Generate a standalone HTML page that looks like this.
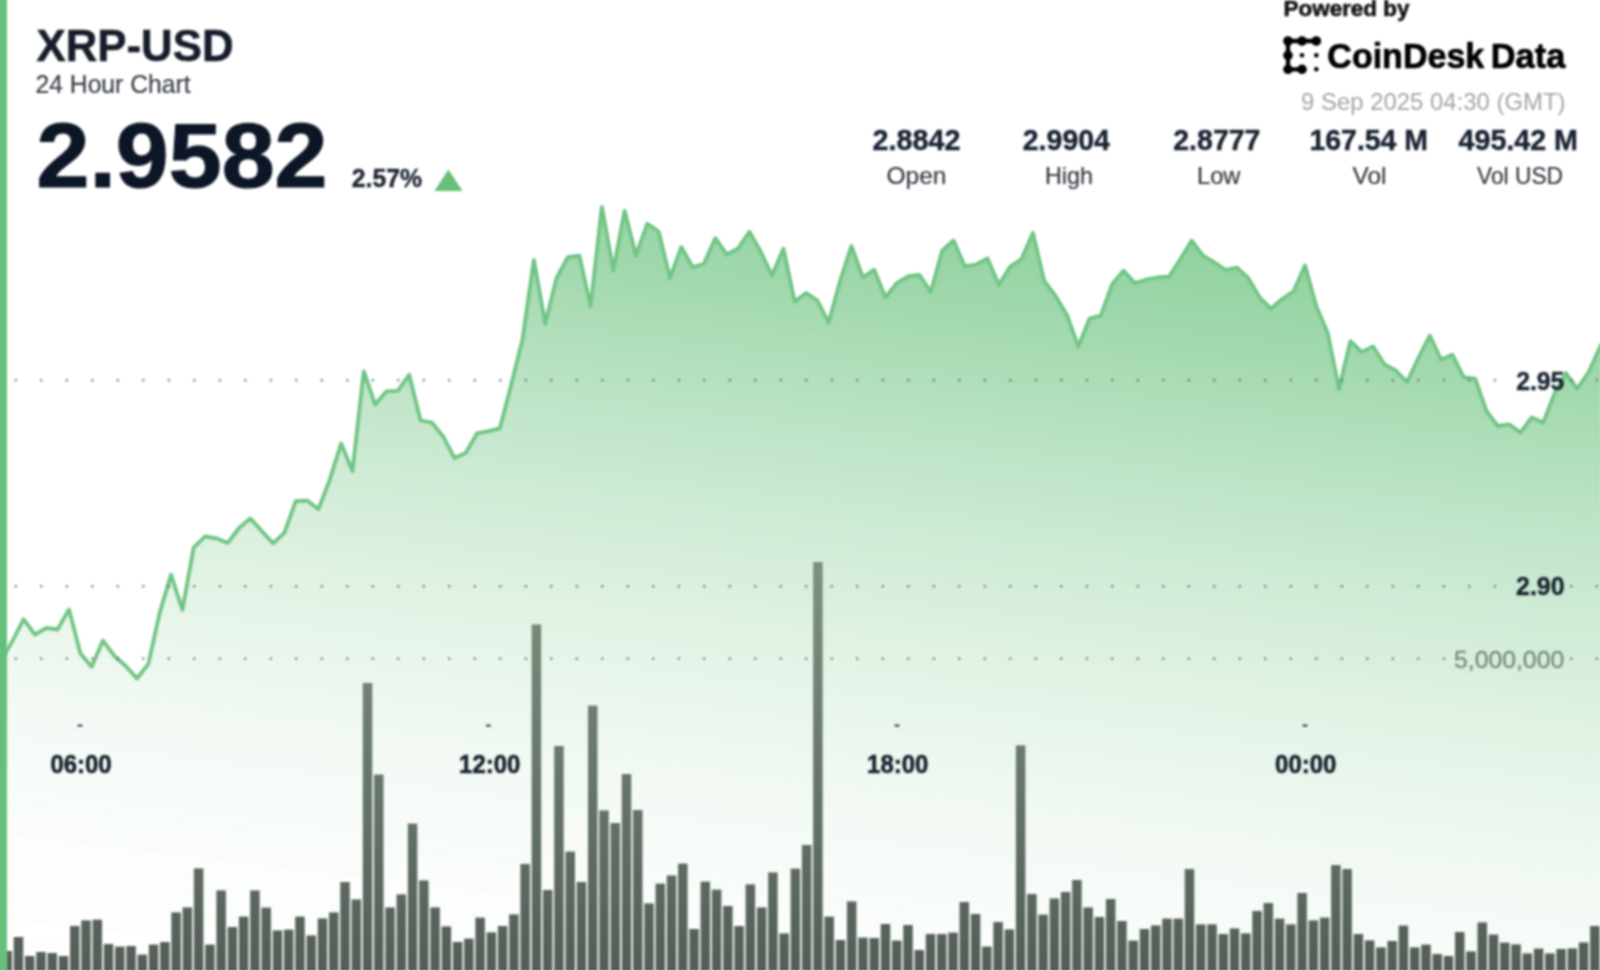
<!DOCTYPE html>
<html><head><meta charset="utf-8"><title>XRP-USD 24 Hour Chart</title>
<style>
html,body{margin:0;padding:0;background:#fff;}
body{width:1600px;height:970px;overflow:hidden;font-family:"Liberation Sans",sans-serif;}
svg{display:block;font-family:"Liberation Sans",sans-serif;}
</style></head>
<body>
<svg width="1600" height="970" viewBox="0 0 1600 970">
<defs>
<linearGradient id="ag" gradientUnits="userSpaceOnUse" x1="1.0" y1="-7.9" x2="-118.3" y2="981.7">
<stop offset="0.00" stop-color="#66c07a" stop-opacity="0.8389"/><stop offset="0.04" stop-color="#66c07a" stop-opacity="0.7972"/><stop offset="0.08" stop-color="#66c07a" stop-opacity="0.7536"/><stop offset="0.12" stop-color="#66c07a" stop-opacity="0.7081"/><stop offset="0.16" stop-color="#66c07a" stop-opacity="0.6608"/><stop offset="0.20" stop-color="#66c07a" stop-opacity="0.6115"/><stop offset="0.24" stop-color="#66c07a" stop-opacity="0.5604"/><stop offset="0.28" stop-color="#66c07a" stop-opacity="0.5074"/><stop offset="0.32" stop-color="#66c07a" stop-opacity="0.4532"/><stop offset="0.36" stop-color="#66c07a" stop-opacity="0.4014"/><stop offset="0.40" stop-color="#66c07a" stop-opacity="0.3528"/><stop offset="0.44" stop-color="#66c07a" stop-opacity="0.3073"/><stop offset="0.48" stop-color="#66c07a" stop-opacity="0.2650"/><stop offset="0.52" stop-color="#66c07a" stop-opacity="0.2258"/><stop offset="0.56" stop-color="#66c07a" stop-opacity="0.1897"/><stop offset="0.60" stop-color="#66c07a" stop-opacity="0.1568"/><stop offset="0.64" stop-color="#66c07a" stop-opacity="0.1270"/><stop offset="0.68" stop-color="#66c07a" stop-opacity="0.1004"/><stop offset="0.72" stop-color="#66c07a" stop-opacity="0.0768"/><stop offset="0.76" stop-color="#66c07a" stop-opacity="0.0564"/><stop offset="0.80" stop-color="#66c07a" stop-opacity="0.0392"/><stop offset="0.84" stop-color="#66c07a" stop-opacity="0.0251"/><stop offset="0.88" stop-color="#66c07a" stop-opacity="0.0141"/><stop offset="0.92" stop-color="#66c07a" stop-opacity="0.0063"/><stop offset="0.96" stop-color="#66c07a" stop-opacity="0.0016"/><stop offset="1.00" stop-color="#66c07a" stop-opacity="0.0000"/>
</linearGradient>
<linearGradient id="bg" gradientUnits="userSpaceOnUse" x1="0" y1="560" x2="0" y2="970">
<stop offset="0" stop-color="#7d9181"/>
<stop offset="1" stop-color="#535e57"/>
</linearGradient>
<filter id="soft" x="-2%" y="-2%" width="104%" height="104%"><feGaussianBlur stdDeviation="1.1"/></filter>
<filter id="soft2" x="-2%" y="-2%" width="104%" height="104%"><feGaussianBlur stdDeviation="0.8"/></filter>
</defs>
<rect width="1600" height="970" fill="#fff"/>
<g filter="url(#soft)">
<path d="M0.9,660.0 L12.3,641.5 L23.6,619.3 L34.9,634.6 L46.3,628.0 L57.6,629.5 L69.0,609.4 L80.3,653.2 L91.6,666.8 L103.0,640.6 L114.3,655.9 L125.7,666.0 L137.0,678.5 L148.3,664.1 L159.7,612.9 L171.0,574.7 L182.4,609.9 L193.7,547.7 L205.0,536.5 L216.4,538.3 L227.7,543.1 L239.1,528.0 L250.4,518.4 L261.7,531.1 L273.1,543.3 L284.4,532.8 L295.8,501.2 L307.1,500.6 L318.4,509.2 L329.8,479.6 L341.1,443.5 L352.5,471.0 L363.8,371.3 L375.1,404.7 L386.5,391.3 L397.8,390.9 L409.2,374.8 L420.5,420.5 L431.8,422.5 L443.2,436.6 L454.5,458.1 L465.9,452.8 L477.2,433.3 L488.5,431.1 L499.9,428.3 L511.2,385.1 L522.6,339.2 L533.9,259.9 L545.2,323.8 L556.6,278.0 L567.9,257.1 L579.3,255.7 L590.6,306.1 L601.9,207.0 L613.3,270.7 L624.6,210.8 L636.0,255.7 L647.3,223.7 L658.6,231.5 L670.0,278.2 L681.3,247.2 L692.7,267.2 L704.0,263.7 L715.3,238.2 L726.7,254.5 L738.0,248.7 L749.4,231.8 L760.7,251.7 L772.0,275.8 L783.4,248.7 L794.7,301.8 L806.1,293.0 L817.4,300.5 L828.7,322.8 L840.1,281.0 L851.4,246.0 L862.8,277.5 L874.1,269.7 L885.4,297.5 L896.8,283.2 L908.1,276.5 L919.5,275.0 L930.8,292.2 L942.1,251.0 L953.5,240.5 L964.8,266.4 L976.2,264.5 L987.5,258.5 L998.8,285.1 L1010.2,266.7 L1021.5,259.2 L1032.9,233.0 L1044.2,281.0 L1055.5,296.0 L1066.9,315.0 L1078.2,346.7 L1089.6,318.7 L1100.9,315.7 L1112.2,284.2 L1123.6,270.7 L1134.9,283.1 L1146.3,279.7 L1157.6,277.5 L1168.9,276.7 L1180.3,259.5 L1191.6,240.7 L1203.0,255.7 L1214.3,262.5 L1225.6,270.0 L1237.0,267.7 L1248.3,278.2 L1259.7,297.7 L1271.0,308.8 L1282.3,299.0 L1293.7,291.3 L1305.0,265.5 L1316.4,306.7 L1327.7,333.0 L1339.0,389.2 L1350.4,341.2 L1361.7,352.1 L1373.1,346.5 L1384.4,364.5 L1395.7,370.5 L1407.1,382.2 L1418.4,358.0 L1429.8,335.7 L1441.1,359.7 L1452.4,354.8 L1463.8,377.5 L1475.1,378.7 L1486.5,411.2 L1497.8,426.0 L1509.1,424.4 L1520.5,432.6 L1531.8,417.5 L1543.2,422.7 L1554.5,393.7 L1565.8,373.1 L1577.2,388.8 L1588.5,372.5 L1601.0,345.0 L1601,971 L0,971 Z" fill="url(#ag)"/>
</g>
<g filter="url(#soft)">
<path d="M0.9,660.0 L12.3,641.5 L23.6,619.3 L34.9,634.6 L46.3,628.0 L57.6,629.5 L69.0,609.4 L80.3,653.2 L91.6,666.8 L103.0,640.6 L114.3,655.9 L125.7,666.0 L137.0,678.5 L148.3,664.1 L159.7,612.9 L171.0,574.7 L182.4,609.9 L193.7,547.7 L205.0,536.5 L216.4,538.3 L227.7,543.1 L239.1,528.0 L250.4,518.4 L261.7,531.1 L273.1,543.3 L284.4,532.8 L295.8,501.2 L307.1,500.6 L318.4,509.2 L329.8,479.6 L341.1,443.5 L352.5,471.0 L363.8,371.3 L375.1,404.7 L386.5,391.3 L397.8,390.9 L409.2,374.8 L420.5,420.5 L431.8,422.5 L443.2,436.6 L454.5,458.1 L465.9,452.8 L477.2,433.3 L488.5,431.1 L499.9,428.3 L511.2,385.1 L522.6,339.2 L533.9,259.9 L545.2,323.8 L556.6,278.0 L567.9,257.1 L579.3,255.7 L590.6,306.1 L601.9,207.0 L613.3,270.7 L624.6,210.8 L636.0,255.7 L647.3,223.7 L658.6,231.5 L670.0,278.2 L681.3,247.2 L692.7,267.2 L704.0,263.7 L715.3,238.2 L726.7,254.5 L738.0,248.7 L749.4,231.8 L760.7,251.7 L772.0,275.8 L783.4,248.7 L794.7,301.8 L806.1,293.0 L817.4,300.5 L828.7,322.8 L840.1,281.0 L851.4,246.0 L862.8,277.5 L874.1,269.7 L885.4,297.5 L896.8,283.2 L908.1,276.5 L919.5,275.0 L930.8,292.2 L942.1,251.0 L953.5,240.5 L964.8,266.4 L976.2,264.5 L987.5,258.5 L998.8,285.1 L1010.2,266.7 L1021.5,259.2 L1032.9,233.0 L1044.2,281.0 L1055.5,296.0 L1066.9,315.0 L1078.2,346.7 L1089.6,318.7 L1100.9,315.7 L1112.2,284.2 L1123.6,270.7 L1134.9,283.1 L1146.3,279.7 L1157.6,277.5 L1168.9,276.7 L1180.3,259.5 L1191.6,240.7 L1203.0,255.7 L1214.3,262.5 L1225.6,270.0 L1237.0,267.7 L1248.3,278.2 L1259.7,297.7 L1271.0,308.8 L1282.3,299.0 L1293.7,291.3 L1305.0,265.5 L1316.4,306.7 L1327.7,333.0 L1339.0,389.2 L1350.4,341.2 L1361.7,352.1 L1373.1,346.5 L1384.4,364.5 L1395.7,370.5 L1407.1,382.2 L1418.4,358.0 L1429.8,335.7 L1441.1,359.7 L1452.4,354.8 L1463.8,377.5 L1475.1,378.7 L1486.5,411.2 L1497.8,426.0 L1509.1,424.4 L1520.5,432.6 L1531.8,417.5 L1543.2,422.7 L1554.5,393.7 L1565.8,373.1 L1577.2,388.8 L1588.5,372.5 L1601.0,345.0" fill="none" stroke="#6fc483" stroke-width="3.8" stroke-linejoin="round" stroke-linecap="round"/>
</g>
<g fill="#626262" filter="url(#soft2)"><rect x="14.80" y="379.30" width="2.0" height="2.0"/><rect x="40.30" y="379.30" width="2.0" height="2.0"/><rect x="65.80" y="379.30" width="2.0" height="2.0"/><rect x="91.30" y="379.30" width="2.0" height="2.0"/><rect x="116.80" y="379.30" width="2.0" height="2.0"/><rect x="142.30" y="379.30" width="2.0" height="2.0"/><rect x="167.80" y="379.30" width="2.0" height="2.0"/><rect x="193.30" y="379.30" width="2.0" height="2.0"/><rect x="218.80" y="379.30" width="2.0" height="2.0"/><rect x="244.30" y="379.30" width="2.0" height="2.0"/><rect x="269.80" y="379.30" width="2.0" height="2.0"/><rect x="295.30" y="379.30" width="2.0" height="2.0"/><rect x="320.80" y="379.30" width="2.0" height="2.0"/><rect x="346.30" y="379.30" width="2.0" height="2.0"/><rect x="371.80" y="379.30" width="2.0" height="2.0"/><rect x="397.30" y="379.30" width="2.0" height="2.0"/><rect x="422.80" y="379.30" width="2.0" height="2.0"/><rect x="448.30" y="379.30" width="2.0" height="2.0"/><rect x="473.80" y="379.30" width="2.0" height="2.0"/><rect x="499.30" y="379.30" width="2.0" height="2.0"/><rect x="524.80" y="379.30" width="2.0" height="2.0"/><rect x="550.30" y="379.30" width="2.0" height="2.0"/><rect x="575.80" y="379.30" width="2.0" height="2.0"/><rect x="601.30" y="379.30" width="2.0" height="2.0"/><rect x="626.80" y="379.30" width="2.0" height="2.0"/><rect x="652.30" y="379.30" width="2.0" height="2.0"/><rect x="677.80" y="379.30" width="2.0" height="2.0"/><rect x="703.30" y="379.30" width="2.0" height="2.0"/><rect x="728.80" y="379.30" width="2.0" height="2.0"/><rect x="754.30" y="379.30" width="2.0" height="2.0"/><rect x="779.80" y="379.30" width="2.0" height="2.0"/><rect x="805.30" y="379.30" width="2.0" height="2.0"/><rect x="830.80" y="379.30" width="2.0" height="2.0"/><rect x="856.30" y="379.30" width="2.0" height="2.0"/><rect x="881.80" y="379.30" width="2.0" height="2.0"/><rect x="907.30" y="379.30" width="2.0" height="2.0"/><rect x="932.80" y="379.30" width="2.0" height="2.0"/><rect x="958.30" y="379.30" width="2.0" height="2.0"/><rect x="983.80" y="379.30" width="2.0" height="2.0"/><rect x="1009.30" y="379.30" width="2.0" height="2.0"/><rect x="1034.80" y="379.30" width="2.0" height="2.0"/><rect x="1060.30" y="379.30" width="2.0" height="2.0"/><rect x="1085.80" y="379.30" width="2.0" height="2.0"/><rect x="1111.30" y="379.30" width="2.0" height="2.0"/><rect x="1136.80" y="379.30" width="2.0" height="2.0"/><rect x="1162.30" y="379.30" width="2.0" height="2.0"/><rect x="1187.80" y="379.30" width="2.0" height="2.0"/><rect x="1213.30" y="379.30" width="2.0" height="2.0"/><rect x="1238.80" y="379.30" width="2.0" height="2.0"/><rect x="1264.30" y="379.30" width="2.0" height="2.0"/><rect x="1289.80" y="379.30" width="2.0" height="2.0"/><rect x="1315.30" y="379.30" width="2.0" height="2.0"/><rect x="1340.80" y="379.30" width="2.0" height="2.0"/><rect x="1366.30" y="379.30" width="2.0" height="2.0"/><rect x="1391.80" y="379.30" width="2.0" height="2.0"/><rect x="1417.30" y="379.30" width="2.0" height="2.0"/><rect x="1442.80" y="379.30" width="2.0" height="2.0"/><rect x="1468.30" y="379.30" width="2.0" height="2.0"/><rect x="1493.80" y="379.30" width="2.0" height="2.0"/><rect x="1570.30" y="379.30" width="2.0" height="2.0"/><rect x="1595.80" y="379.30" width="2.0" height="2.0"/><rect x="14.80" y="585.30" width="2.0" height="2.0"/><rect x="40.30" y="585.30" width="2.0" height="2.0"/><rect x="65.80" y="585.30" width="2.0" height="2.0"/><rect x="91.30" y="585.30" width="2.0" height="2.0"/><rect x="116.80" y="585.30" width="2.0" height="2.0"/><rect x="142.30" y="585.30" width="2.0" height="2.0"/><rect x="167.80" y="585.30" width="2.0" height="2.0"/><rect x="193.30" y="585.30" width="2.0" height="2.0"/><rect x="218.80" y="585.30" width="2.0" height="2.0"/><rect x="244.30" y="585.30" width="2.0" height="2.0"/><rect x="269.80" y="585.30" width="2.0" height="2.0"/><rect x="295.30" y="585.30" width="2.0" height="2.0"/><rect x="320.80" y="585.30" width="2.0" height="2.0"/><rect x="346.30" y="585.30" width="2.0" height="2.0"/><rect x="371.80" y="585.30" width="2.0" height="2.0"/><rect x="397.30" y="585.30" width="2.0" height="2.0"/><rect x="422.80" y="585.30" width="2.0" height="2.0"/><rect x="448.30" y="585.30" width="2.0" height="2.0"/><rect x="473.80" y="585.30" width="2.0" height="2.0"/><rect x="499.30" y="585.30" width="2.0" height="2.0"/><rect x="524.80" y="585.30" width="2.0" height="2.0"/><rect x="550.30" y="585.30" width="2.0" height="2.0"/><rect x="575.80" y="585.30" width="2.0" height="2.0"/><rect x="601.30" y="585.30" width="2.0" height="2.0"/><rect x="626.80" y="585.30" width="2.0" height="2.0"/><rect x="652.30" y="585.30" width="2.0" height="2.0"/><rect x="677.80" y="585.30" width="2.0" height="2.0"/><rect x="703.30" y="585.30" width="2.0" height="2.0"/><rect x="728.80" y="585.30" width="2.0" height="2.0"/><rect x="754.30" y="585.30" width="2.0" height="2.0"/><rect x="779.80" y="585.30" width="2.0" height="2.0"/><rect x="805.30" y="585.30" width="2.0" height="2.0"/><rect x="830.80" y="585.30" width="2.0" height="2.0"/><rect x="856.30" y="585.30" width="2.0" height="2.0"/><rect x="881.80" y="585.30" width="2.0" height="2.0"/><rect x="907.30" y="585.30" width="2.0" height="2.0"/><rect x="932.80" y="585.30" width="2.0" height="2.0"/><rect x="958.30" y="585.30" width="2.0" height="2.0"/><rect x="983.80" y="585.30" width="2.0" height="2.0"/><rect x="1009.30" y="585.30" width="2.0" height="2.0"/><rect x="1034.80" y="585.30" width="2.0" height="2.0"/><rect x="1060.30" y="585.30" width="2.0" height="2.0"/><rect x="1085.80" y="585.30" width="2.0" height="2.0"/><rect x="1111.30" y="585.30" width="2.0" height="2.0"/><rect x="1136.80" y="585.30" width="2.0" height="2.0"/><rect x="1162.30" y="585.30" width="2.0" height="2.0"/><rect x="1187.80" y="585.30" width="2.0" height="2.0"/><rect x="1213.30" y="585.30" width="2.0" height="2.0"/><rect x="1238.80" y="585.30" width="2.0" height="2.0"/><rect x="1264.30" y="585.30" width="2.0" height="2.0"/><rect x="1289.80" y="585.30" width="2.0" height="2.0"/><rect x="1315.30" y="585.30" width="2.0" height="2.0"/><rect x="1340.80" y="585.30" width="2.0" height="2.0"/><rect x="1366.30" y="585.30" width="2.0" height="2.0"/><rect x="1391.80" y="585.30" width="2.0" height="2.0"/><rect x="1417.30" y="585.30" width="2.0" height="2.0"/><rect x="1442.80" y="585.30" width="2.0" height="2.0"/><rect x="1468.30" y="585.30" width="2.0" height="2.0"/><rect x="1493.80" y="585.30" width="2.0" height="2.0"/><rect x="1570.30" y="585.30" width="2.0" height="2.0"/><rect x="1595.80" y="585.30" width="2.0" height="2.0"/><rect x="14.80" y="657.60" width="2.0" height="2.0"/><rect x="40.30" y="657.60" width="2.0" height="2.0"/><rect x="65.80" y="657.60" width="2.0" height="2.0"/><rect x="91.30" y="657.60" width="2.0" height="2.0"/><rect x="116.80" y="657.60" width="2.0" height="2.0"/><rect x="142.30" y="657.60" width="2.0" height="2.0"/><rect x="167.80" y="657.60" width="2.0" height="2.0"/><rect x="193.30" y="657.60" width="2.0" height="2.0"/><rect x="218.80" y="657.60" width="2.0" height="2.0"/><rect x="244.30" y="657.60" width="2.0" height="2.0"/><rect x="269.80" y="657.60" width="2.0" height="2.0"/><rect x="295.30" y="657.60" width="2.0" height="2.0"/><rect x="320.80" y="657.60" width="2.0" height="2.0"/><rect x="346.30" y="657.60" width="2.0" height="2.0"/><rect x="371.80" y="657.60" width="2.0" height="2.0"/><rect x="397.30" y="657.60" width="2.0" height="2.0"/><rect x="422.80" y="657.60" width="2.0" height="2.0"/><rect x="448.30" y="657.60" width="2.0" height="2.0"/><rect x="473.80" y="657.60" width="2.0" height="2.0"/><rect x="499.30" y="657.60" width="2.0" height="2.0"/><rect x="524.80" y="657.60" width="2.0" height="2.0"/><rect x="550.30" y="657.60" width="2.0" height="2.0"/><rect x="575.80" y="657.60" width="2.0" height="2.0"/><rect x="601.30" y="657.60" width="2.0" height="2.0"/><rect x="626.80" y="657.60" width="2.0" height="2.0"/><rect x="652.30" y="657.60" width="2.0" height="2.0"/><rect x="677.80" y="657.60" width="2.0" height="2.0"/><rect x="703.30" y="657.60" width="2.0" height="2.0"/><rect x="728.80" y="657.60" width="2.0" height="2.0"/><rect x="754.30" y="657.60" width="2.0" height="2.0"/><rect x="779.80" y="657.60" width="2.0" height="2.0"/><rect x="805.30" y="657.60" width="2.0" height="2.0"/><rect x="830.80" y="657.60" width="2.0" height="2.0"/><rect x="856.30" y="657.60" width="2.0" height="2.0"/><rect x="881.80" y="657.60" width="2.0" height="2.0"/><rect x="907.30" y="657.60" width="2.0" height="2.0"/><rect x="932.80" y="657.60" width="2.0" height="2.0"/><rect x="958.30" y="657.60" width="2.0" height="2.0"/><rect x="983.80" y="657.60" width="2.0" height="2.0"/><rect x="1009.30" y="657.60" width="2.0" height="2.0"/><rect x="1034.80" y="657.60" width="2.0" height="2.0"/><rect x="1060.30" y="657.60" width="2.0" height="2.0"/><rect x="1085.80" y="657.60" width="2.0" height="2.0"/><rect x="1111.30" y="657.60" width="2.0" height="2.0"/><rect x="1136.80" y="657.60" width="2.0" height="2.0"/><rect x="1162.30" y="657.60" width="2.0" height="2.0"/><rect x="1187.80" y="657.60" width="2.0" height="2.0"/><rect x="1213.30" y="657.60" width="2.0" height="2.0"/><rect x="1238.80" y="657.60" width="2.0" height="2.0"/><rect x="1264.30" y="657.60" width="2.0" height="2.0"/><rect x="1289.80" y="657.60" width="2.0" height="2.0"/><rect x="1315.30" y="657.60" width="2.0" height="2.0"/><rect x="1340.80" y="657.60" width="2.0" height="2.0"/><rect x="1366.30" y="657.60" width="2.0" height="2.0"/><rect x="1391.80" y="657.60" width="2.0" height="2.0"/><rect x="1417.30" y="657.60" width="2.0" height="2.0"/><rect x="1442.80" y="657.60" width="2.0" height="2.0"/><rect x="1570.30" y="657.60" width="2.0" height="2.0"/><rect x="1595.80" y="657.60" width="2.0" height="2.0"/></g>
<g filter="url(#soft)">
<g fill="url(#bg)" opacity="1.0">
<rect x="2.45" y="951.0" width="9.5" height="20.0"/>
<rect x="13.71" y="937.0" width="9.5" height="34.0"/>
<rect x="24.97" y="956.0" width="9.5" height="15.0"/>
<rect x="36.23" y="952.0" width="9.5" height="19.0"/>
<rect x="47.49" y="953.0" width="9.5" height="18.0"/>
<rect x="58.75" y="956.0" width="9.5" height="15.0"/>
<rect x="70.01" y="926.0" width="9.5" height="45.0"/>
<rect x="81.27" y="920.4" width="9.5" height="50.6"/>
<rect x="92.53" y="919.6" width="9.5" height="51.4"/>
<rect x="103.79" y="944.0" width="9.5" height="27.0"/>
<rect x="115.05" y="946.6" width="9.5" height="24.4"/>
<rect x="126.31" y="946.0" width="9.5" height="25.0"/>
<rect x="137.57" y="954.6" width="9.5" height="16.4"/>
<rect x="148.83" y="944.6" width="9.5" height="26.4"/>
<rect x="160.09" y="942.0" width="9.5" height="29.0"/>
<rect x="171.35" y="912.4" width="9.5" height="58.6"/>
<rect x="182.61" y="907.4" width="9.5" height="63.6"/>
<rect x="193.87" y="868.4" width="9.5" height="102.6"/>
<rect x="205.13" y="944.6" width="9.5" height="26.4"/>
<rect x="216.39" y="890.4" width="9.5" height="80.6"/>
<rect x="227.65" y="927.0" width="9.5" height="44.0"/>
<rect x="238.91" y="916.6" width="9.5" height="54.4"/>
<rect x="250.17" y="890.4" width="9.5" height="80.6"/>
<rect x="261.43" y="907.6" width="9.5" height="63.4"/>
<rect x="272.69" y="930.4" width="9.5" height="40.6"/>
<rect x="283.95" y="929.6" width="9.5" height="41.4"/>
<rect x="295.21" y="916.6" width="9.5" height="54.4"/>
<rect x="306.47" y="935.4" width="9.5" height="35.6"/>
<rect x="317.73" y="918.4" width="9.5" height="52.6"/>
<rect x="328.99" y="912.4" width="9.5" height="58.6"/>
<rect x="340.25" y="882.0" width="9.5" height="89.0"/>
<rect x="351.51" y="899.4" width="9.5" height="71.6"/>
<rect x="362.77" y="683.0" width="9.5" height="288.0"/>
<rect x="374.03" y="774.6" width="9.5" height="196.4"/>
<rect x="385.29" y="907.4" width="9.5" height="63.6"/>
<rect x="396.55" y="894.4" width="9.5" height="76.6"/>
<rect x="407.81" y="823.6" width="9.5" height="147.4"/>
<rect x="419.07" y="880.4" width="9.5" height="90.6"/>
<rect x="430.33" y="907.4" width="9.5" height="63.6"/>
<rect x="441.59" y="926.4" width="9.5" height="44.6"/>
<rect x="452.85" y="942.0" width="9.5" height="29.0"/>
<rect x="464.11" y="938.6" width="9.5" height="32.4"/>
<rect x="475.37" y="917.6" width="9.5" height="53.4"/>
<rect x="486.63" y="932.4" width="9.5" height="38.6"/>
<rect x="497.89" y="926.0" width="9.5" height="45.0"/>
<rect x="509.15" y="914.4" width="9.5" height="56.6"/>
<rect x="520.41" y="864.0" width="9.5" height="107.0"/>
<rect x="531.67" y="624.4" width="9.5" height="346.6"/>
<rect x="542.93" y="890.0" width="9.5" height="81.0"/>
<rect x="554.19" y="746.0" width="9.5" height="225.0"/>
<rect x="565.45" y="851.6" width="9.5" height="119.4"/>
<rect x="576.71" y="882.0" width="9.5" height="89.0"/>
<rect x="587.97" y="705.6" width="9.5" height="265.4"/>
<rect x="599.23" y="810.4" width="9.5" height="160.6"/>
<rect x="610.49" y="823.0" width="9.5" height="148.0"/>
<rect x="621.75" y="774.0" width="9.5" height="197.0"/>
<rect x="633.01" y="810.0" width="9.5" height="161.0"/>
<rect x="644.27" y="903.4" width="9.5" height="67.6"/>
<rect x="655.53" y="883.6" width="9.5" height="87.4"/>
<rect x="666.79" y="875.4" width="9.5" height="95.6"/>
<rect x="678.05" y="863.6" width="9.5" height="107.4"/>
<rect x="689.31" y="929.0" width="9.5" height="42.0"/>
<rect x="700.57" y="881.6" width="9.5" height="89.4"/>
<rect x="711.83" y="889.6" width="9.5" height="81.4"/>
<rect x="723.09" y="906.0" width="9.5" height="65.0"/>
<rect x="734.35" y="926.0" width="9.5" height="45.0"/>
<rect x="745.61" y="884.4" width="9.5" height="86.6"/>
<rect x="756.87" y="907.4" width="9.5" height="63.6"/>
<rect x="768.13" y="872.4" width="9.5" height="98.6"/>
<rect x="779.39" y="933.4" width="9.5" height="37.6"/>
<rect x="790.65" y="868.6" width="9.5" height="102.4"/>
<rect x="801.91" y="845.0" width="9.5" height="126.0"/>
<rect x="813.17" y="562.0" width="9.5" height="409.0"/>
<rect x="824.43" y="916.6" width="9.5" height="54.4"/>
<rect x="835.69" y="940.0" width="9.5" height="31.0"/>
<rect x="846.95" y="901.4" width="9.5" height="69.6"/>
<rect x="858.21" y="937.6" width="9.5" height="33.4"/>
<rect x="869.47" y="938.0" width="9.5" height="33.0"/>
<rect x="880.73" y="924.0" width="9.5" height="47.0"/>
<rect x="891.99" y="940.6" width="9.5" height="30.4"/>
<rect x="903.25" y="925.0" width="9.5" height="46.0"/>
<rect x="914.51" y="950.0" width="9.5" height="21.0"/>
<rect x="925.77" y="934.0" width="9.5" height="37.0"/>
<rect x="937.03" y="934.0" width="9.5" height="37.0"/>
<rect x="948.29" y="932.6" width="9.5" height="38.4"/>
<rect x="959.55" y="902.0" width="9.5" height="69.0"/>
<rect x="970.81" y="914.0" width="9.5" height="57.0"/>
<rect x="982.07" y="946.6" width="9.5" height="24.4"/>
<rect x="993.33" y="922.0" width="9.5" height="49.0"/>
<rect x="1004.59" y="929.4" width="9.5" height="41.6"/>
<rect x="1015.85" y="745.4" width="9.5" height="225.6"/>
<rect x="1027.11" y="894.0" width="9.5" height="77.0"/>
<rect x="1038.37" y="914.6" width="9.5" height="56.4"/>
<rect x="1049.63" y="898.4" width="9.5" height="72.6"/>
<rect x="1060.89" y="892.0" width="9.5" height="79.0"/>
<rect x="1072.15" y="880.0" width="9.5" height="91.0"/>
<rect x="1083.41" y="907.4" width="9.5" height="63.6"/>
<rect x="1094.67" y="917.0" width="9.5" height="54.0"/>
<rect x="1105.93" y="899.0" width="9.5" height="72.0"/>
<rect x="1117.19" y="921.0" width="9.5" height="50.0"/>
<rect x="1128.45" y="940.6" width="9.5" height="30.4"/>
<rect x="1139.71" y="929.0" width="9.5" height="42.0"/>
<rect x="1150.97" y="925.4" width="9.5" height="45.6"/>
<rect x="1162.23" y="918.6" width="9.5" height="52.4"/>
<rect x="1173.49" y="918.6" width="9.5" height="52.4"/>
<rect x="1184.75" y="869.0" width="9.5" height="102.0"/>
<rect x="1196.01" y="924.4" width="9.5" height="46.6"/>
<rect x="1207.27" y="924.4" width="9.5" height="46.6"/>
<rect x="1218.53" y="934.0" width="9.5" height="37.0"/>
<rect x="1229.79" y="928.4" width="9.5" height="42.6"/>
<rect x="1241.05" y="933.4" width="9.5" height="37.6"/>
<rect x="1252.31" y="911.0" width="9.5" height="60.0"/>
<rect x="1263.57" y="903.0" width="9.5" height="68.0"/>
<rect x="1274.83" y="918.6" width="9.5" height="52.4"/>
<rect x="1286.09" y="924.4" width="9.5" height="46.6"/>
<rect x="1297.35" y="893.0" width="9.5" height="78.0"/>
<rect x="1308.61" y="920.4" width="9.5" height="50.6"/>
<rect x="1319.87" y="917.6" width="9.5" height="53.4"/>
<rect x="1331.13" y="865.0" width="9.5" height="106.0"/>
<rect x="1342.39" y="869.0" width="9.5" height="102.0"/>
<rect x="1353.65" y="934.0" width="9.5" height="37.0"/>
<rect x="1364.91" y="940.4" width="9.5" height="30.6"/>
<rect x="1376.17" y="947.4" width="9.5" height="23.6"/>
<rect x="1387.43" y="941.0" width="9.5" height="30.0"/>
<rect x="1398.69" y="925.6" width="9.5" height="45.4"/>
<rect x="1409.95" y="947.4" width="9.5" height="23.6"/>
<rect x="1421.21" y="944.6" width="9.5" height="26.4"/>
<rect x="1432.47" y="954.0" width="9.5" height="17.0"/>
<rect x="1443.73" y="956.0" width="9.5" height="15.0"/>
<rect x="1454.99" y="932.0" width="9.5" height="39.0"/>
<rect x="1466.25" y="951.4" width="9.5" height="19.6"/>
<rect x="1477.51" y="922.4" width="9.5" height="48.6"/>
<rect x="1488.77" y="934.6" width="9.5" height="36.4"/>
<rect x="1500.03" y="942.6" width="9.5" height="28.4"/>
<rect x="1511.29" y="944.4" width="9.5" height="26.6"/>
<rect x="1522.55" y="953.4" width="9.5" height="17.6"/>
<rect x="1533.81" y="948.6" width="9.5" height="22.4"/>
<rect x="1545.07" y="953.4" width="9.5" height="17.6"/>
<rect x="1556.33" y="949.0" width="9.5" height="22.0"/>
<rect x="1567.59" y="948.4" width="9.5" height="22.6"/>
<rect x="1578.85" y="942.4" width="9.5" height="28.6"/>
<rect x="1590.11" y="926.0" width="9.5" height="45.0"/>
</g>
<rect x="77.7" y="724.7" width="4.6" height="1.7" fill="#101a28"/><rect x="486.1" y="724.7" width="4.6" height="1.7" fill="#101a28"/><rect x="894.7" y="724.7" width="4.6" height="1.7" fill="#101a28"/><rect x="1302.7" y="724.7" width="4.6" height="1.7" fill="#101a28"/>
<rect x="-3" y="-3" width="10" height="976" fill="#66c07a"/>
<path d="M448.4,169.5 L462.6,191 L434.4,191 Z" fill="#66c07a"/>
<g fill="#000" stroke="#000" stroke-linecap="round">
<path d="M1316.3,41 L1288,41 L1288,69.3 L1302,69.3" fill="none" stroke-width="4.3" stroke-linejoin="round"/>
<g stroke="none">
<circle cx="1288" cy="41" r="4.8"/><circle cx="1302" cy="41" r="4.8"/><circle cx="1316.3" cy="41" r="4.8"/>
<circle cx="1288" cy="55.3" r="4.8"/><circle cx="1288" cy="69.3" r="4.8"/><circle cx="1302" cy="69.3" r="4.8"/>
<circle cx="1302" cy="55.3" r="2.3"/><circle cx="1316.3" cy="55.3" r="2.3"/><circle cx="1316.3" cy="69.3" r="2.3"/>
</g></g>
<text x="36.5" y="61" font-size="43.8" font-weight="bold" fill="#141c2b" text-anchor="start" textLength="197" lengthAdjust="spacingAndGlyphs" stroke="#141c2b" stroke-width="0.5" stroke-linejoin="round">XRP-USD</text>
<text x="35.5" y="92.5" font-size="25.3" font-weight="normal" fill="#383e47" text-anchor="start" textLength="155" lengthAdjust="spacingAndGlyphs" stroke="#383e47" stroke-width="0.2" stroke-linejoin="round">24 Hour Chart</text>
<text x="36.5" y="186.8" font-size="90.4" font-weight="bold" fill="#0e1726" text-anchor="start" textLength="291" lengthAdjust="spacingAndGlyphs" stroke="#0e1726" stroke-width="1.2" stroke-linejoin="round">2.9582</text>
<text x="351.8" y="186.9" font-size="25.8" font-weight="bold" fill="#1c2533" text-anchor="start" textLength="70.4" lengthAdjust="spacingAndGlyphs" stroke="#1c2533" stroke-width="0.4" stroke-linejoin="round">2.57%</text>
<text x="1283.5" y="16.2" font-size="22.4" font-weight="bold" fill="#0c0c0c" text-anchor="start" textLength="126" lengthAdjust="spacingAndGlyphs" stroke="#0c0c0c" stroke-width="0.5" stroke-linejoin="round">Powered by</text>
<text x="1327.3" y="68.0" font-size="35.6" font-weight="bold" fill="#060606" text-anchor="start" textLength="157" lengthAdjust="spacingAndGlyphs" stroke="#060606" stroke-width="0.7" stroke-linejoin="round">CoinDesk</text>
<text x="1490.8" y="68.0" font-size="35.6" font-weight="bold" fill="#060606" text-anchor="start" textLength="74.5" lengthAdjust="spacingAndGlyphs" stroke="#060606" stroke-width="0.7" stroke-linejoin="round">Data</text>
<text x="1301" y="110" font-size="24" font-weight="normal" fill="#a4a4a4" text-anchor="start" textLength="264.5" lengthAdjust="spacingAndGlyphs">9 Sep 2025 04:30 (GMT)</text>
<text x="872.5" y="149.6" font-size="28.6" font-weight="bold" fill="#182130" text-anchor="start" textLength="88.0" lengthAdjust="spacingAndGlyphs" stroke="#182130" stroke-width="0.4" stroke-linejoin="round">2.8842</text>
<text x="886.5" y="183.75" font-size="24" font-weight="normal" fill="#2f353e" text-anchor="start" textLength="60.0" lengthAdjust="spacingAndGlyphs" stroke="#2f353e" stroke-width="0.15" stroke-linejoin="round">Open</text>
<text x="1022.75" y="149.6" font-size="28.6" font-weight="bold" fill="#182130" text-anchor="start" textLength="87.2" lengthAdjust="spacingAndGlyphs" stroke="#182130" stroke-width="0.4" stroke-linejoin="round">2.9904</text>
<text x="1045" y="183.75" font-size="24" font-weight="normal" fill="#2f353e" text-anchor="start" textLength="48" lengthAdjust="spacingAndGlyphs" stroke="#2f353e" stroke-width="0.15" stroke-linejoin="round">High</text>
<text x="1173.25" y="149.6" font-size="28.6" font-weight="bold" fill="#182130" text-anchor="start" textLength="87.2" lengthAdjust="spacingAndGlyphs" stroke="#182130" stroke-width="0.4" stroke-linejoin="round">2.8777</text>
<text x="1197" y="183.75" font-size="24" font-weight="normal" fill="#2f353e" text-anchor="start" textLength="43.5" lengthAdjust="spacingAndGlyphs" stroke="#2f353e" stroke-width="0.15" stroke-linejoin="round">Low</text>
<text x="1309.5" y="149.6" font-size="28.6" font-weight="bold" fill="#182130" text-anchor="start" textLength="118.5" lengthAdjust="spacingAndGlyphs" stroke="#182130" stroke-width="0.4" stroke-linejoin="round">167.54 M</text>
<text x="1352.5" y="183.75" font-size="24" font-weight="normal" fill="#2f353e" text-anchor="start" textLength="34.0" lengthAdjust="spacingAndGlyphs" stroke="#2f353e" stroke-width="0.15" stroke-linejoin="round">Vol</text>
<text x="1458.5" y="149.6" font-size="28.6" font-weight="bold" fill="#182130" text-anchor="start" textLength="119.5" lengthAdjust="spacingAndGlyphs" stroke="#182130" stroke-width="0.4" stroke-linejoin="round">495.42 M</text>
<text x="1477" y="183.75" font-size="24" font-weight="normal" fill="#2f353e" text-anchor="start" textLength="86" lengthAdjust="spacingAndGlyphs" stroke="#2f353e" stroke-width="0.15" stroke-linejoin="round">Vol USD</text>
<text x="1516.2" y="390" font-size="25.4" font-weight="bold" fill="#1a2533" text-anchor="start" textLength="48.2" lengthAdjust="spacingAndGlyphs" stroke="#1a2533" stroke-width="0.4" stroke-linejoin="round">2.95</text>
<text x="1516.0" y="595.2" font-size="25.8" font-weight="bold" fill="#1a2533" text-anchor="start" textLength="48.6" lengthAdjust="spacingAndGlyphs" stroke="#1a2533" stroke-width="0.4" stroke-linejoin="round">2.90</text>
<text x="1454.0" y="667.5" font-size="24.8" font-weight="normal" fill="#748b7b" text-anchor="start" textLength="110.2" lengthAdjust="spacingAndGlyphs" stroke="#748b7b" stroke-width="0.3" stroke-linejoin="round">5,000,000</text>
<text x="50.4" y="773" font-size="26" font-weight="bold" fill="#18222f" text-anchor="start" textLength="61.2" lengthAdjust="spacingAndGlyphs" stroke="#18222f" stroke-width="0.6" stroke-linejoin="round">06:00</text>
<text x="459.09999999999997" y="773" font-size="26" font-weight="bold" fill="#18222f" text-anchor="start" textLength="61.2" lengthAdjust="spacingAndGlyphs" stroke="#18222f" stroke-width="0.6" stroke-linejoin="round">12:00</text>
<text x="867.1" y="773" font-size="26" font-weight="bold" fill="#18222f" text-anchor="start" textLength="61.2" lengthAdjust="spacingAndGlyphs" stroke="#18222f" stroke-width="0.6" stroke-linejoin="round">18:00</text>
<text x="1275.1000000000001" y="773" font-size="26" font-weight="bold" fill="#18222f" text-anchor="start" textLength="61.2" lengthAdjust="spacingAndGlyphs" stroke="#18222f" stroke-width="0.6" stroke-linejoin="round">00:00</text>
</g>
</svg>
</body></html>
